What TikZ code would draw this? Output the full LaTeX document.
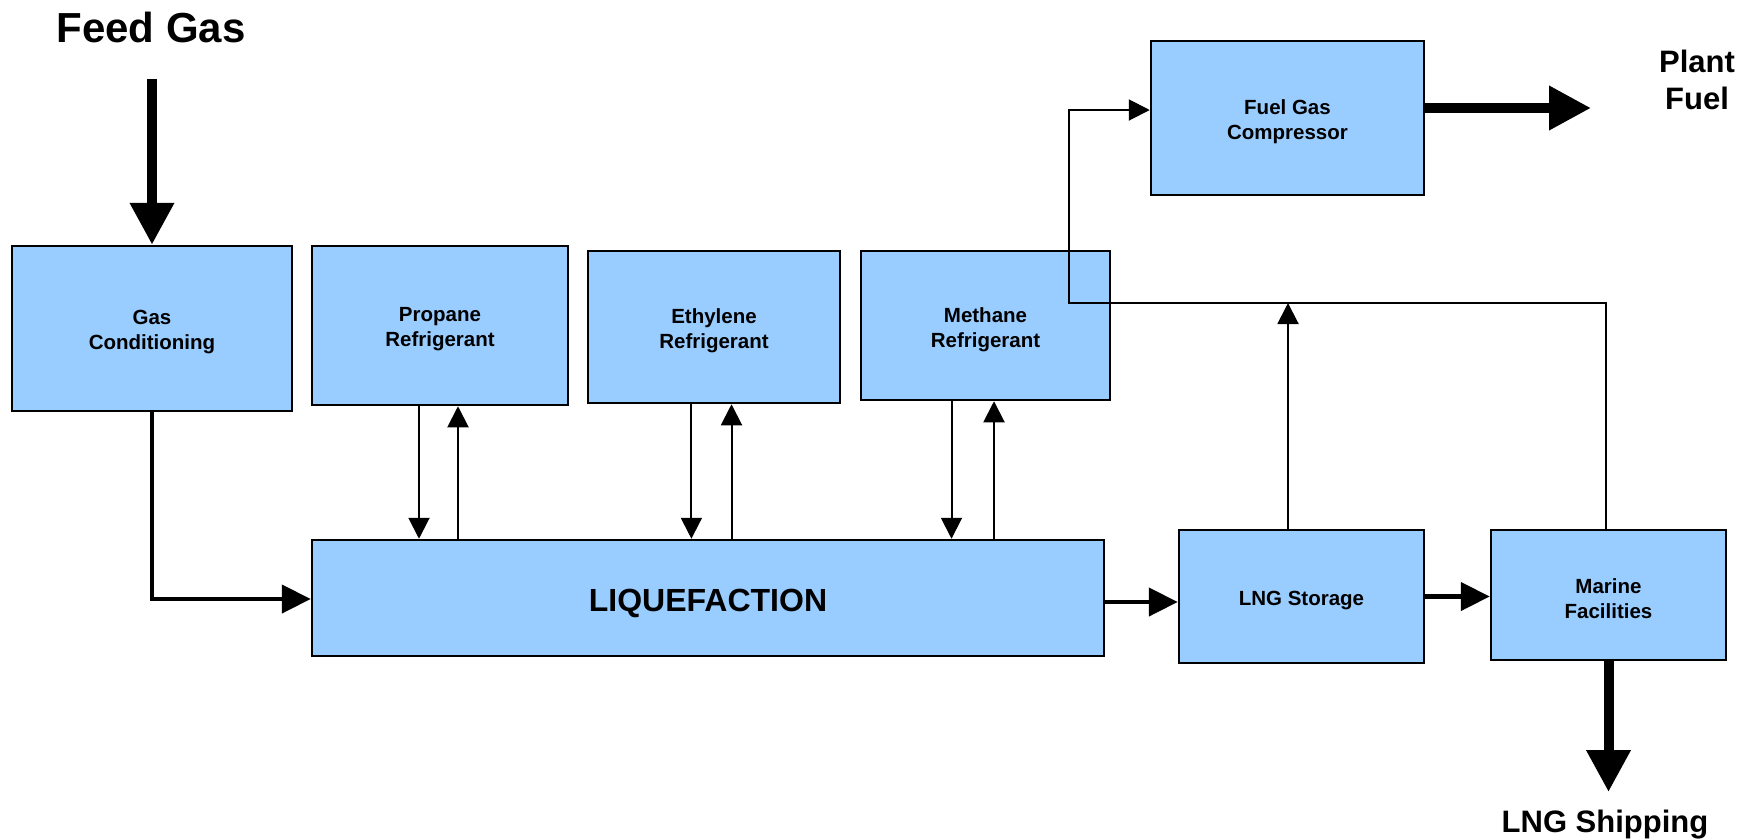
\documentclass[tikz,border=0pt]{standalone}
\usepackage{fontspec}
\setmainfont{Liberation Sans}
\usetikzlibrary{arrows.meta}
\definecolor{boxblue}{HTML}{99CCFF}
\begin{document}
\begin{tikzpicture}[x=1pt,y=-1pt,
  box/.style={draw=black, fill=boxblue, line width=2.5pt, inner sep=0pt},
  btext/.style={align=center, inner sep=0pt, yshift=-4pt,
    font=\bfseries\fontsize{20.5}{25}\selectfont},
  tarrow/.style={line width=2pt, -{Triangle[length=21pt,width=21pt]}},
  marrow/.style={line width=4.5pt, -{Triangle[length=29pt,width=28pt]}},
  barrow/.style={line width=10pt, -{Triangle[length=42pt,width=42pt]}},
  biglabel/.style={font=\bfseries\fontsize{31}{37}\selectfont, align=center, inner sep=0pt}
]
\useasboundingbox (0,0) rectangle (1754,839);

% boxes
\node[box, minimum width=280pt, minimum height=165pt,
  label={[btext]center:{Gas\\Conditioning}}] (gc) at (152,328.5) {};
\node[box, minimum width=256pt, minimum height=159pt,
  label={[btext]center:{Propane\\Refrigerant}}] (prop) at (440,325.5) {};
\node[box, minimum width=252pt, minimum height=152pt,
  label={[btext]center:{Ethylene\\Refrigerant}}] (eth) at (714,327) {};
\node[box, minimum width=249pt, minimum height=149pt,
  label={[btext]center:{Methane\\Refrigerant}}] (meth) at (985.5,325.5) {};
\node[box, minimum width=273pt, minimum height=154pt,
  label={[btext]center:{Fuel Gas\\Compressor}}] (fgc) at (1287.5,118) {};
\node[box, minimum width=792pt, minimum height=116pt,
  label={[btext, yshift=-1.5pt, font=\bfseries\fontsize{32}{38}\selectfont]center:{LIQUEFACTION}}] (liq) at (708,598) {};
\node[box, minimum width=245pt, minimum height=133pt,
  label={[btext]center:{LNG Storage}}] (stor) at (1301.5,596.5) {};
\node[box, minimum width=235pt, minimum height=130pt,
  label={[btext]center:{Marine\\Facilities}}] (mar) at (1608.5,595) {};

% labels
\node[biglabel, font=\bfseries\fontsize{42}{48}\selectfont] (feed) at (151,27) {Feed Gas};
\node[biglabel] (plant) at (1697,80) {Plant\\Fuel};
\node[biglabel] (ship) at (1605,825) {LNG Shipping};

% free ends
\coordinate (feedstart) at (152,79);
\coordinate (plantend) at (1591,108);
\coordinate (shipend) at (1608.5,792);
\coordinate (tl) at (1069,303);

% main flow
\draw[barrow] (feedstart) -- (gc.north);
\draw[marrow] (gc.south) |- ([yshift=-1pt]liq.west);
\draw[marrow] ([yshift=-4pt]liq.east) -- ([yshift=-4pt]liq.east -| stor.west);
\draw[marrow] (stor.east) -- (stor.east -| mar.west);
\draw[barrow] (mar.south) -- (shipend);
\draw[barrow] (fgc.east |- plantend) -- (plantend);

% refrigerant loops
\draw[tarrow] ([xshift=-21pt]prop.south) -- ([xshift=-21pt]prop.south |- liq.north);
\draw[tarrow] ([xshift=18pt]prop.south |- liq.north) -- ([xshift=18pt]prop.south);
\draw[tarrow] ([xshift=-22.6pt]eth.south) -- ([xshift=-22.6pt]eth.south |- liq.north);
\draw[tarrow] ([xshift=17.5pt]eth.south |- liq.north) -- ([xshift=17.5pt]eth.south);
\draw[tarrow] ([xshift=-34pt]meth.south) -- ([xshift=-34pt]meth.south |- liq.north);
\draw[tarrow] ([xshift=8.5pt]meth.south |- liq.north) -- ([xshift=8.5pt]meth.south);

% boil-off gas to fuel gas compressor
\draw[tarrow] ([xshift=-13.5pt]stor.north) -- ([xshift=-13.5pt]stor.north |- tl);
\draw[tarrow] ([xshift=-2.5pt]mar.north) -- ([xshift=-2.5pt]mar.north |- tl) -- (tl) |- ([yshift=8pt]fgc.west);
\end{tikzpicture}
\end{document}
